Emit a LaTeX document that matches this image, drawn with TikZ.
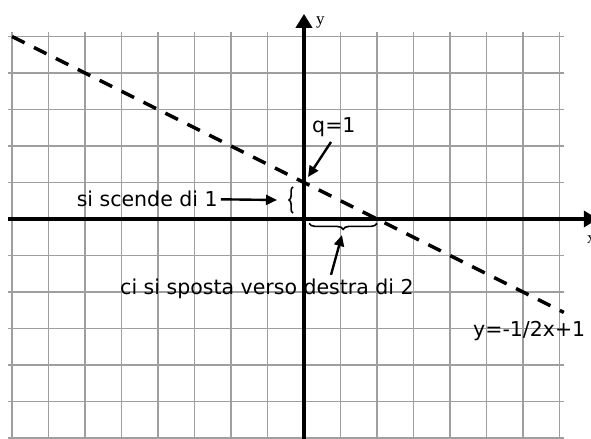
\documentclass[tikz,border=0pt]{standalone}
\usepackage{fontspec}
\setmainfont{DejaVu Sans}
\newfontfamily\axfont{Liberation Serif}
\usetikzlibrary{arrows.meta,decorations.pathreplacing}
\begin{document}
\begin{tikzpicture}[x=36.5pt,y=36.5pt,
  gridline/.style={draw=gray!75, line width=1.3pt},
  axisline/.style={line width=3.6pt, -{Triangle[length=14pt,width=16pt]}},
  graphline/.style={line width=3.4pt, dash pattern=on 14pt off 10.5pt},
  lbl/.style={font=\fontsize{20.5}{24}\selectfont, inner sep=0pt},
  axlbl/.style={font=\axfont\fontsize{17}{20}\selectfont, inner sep=0pt},
  pointer/.style={line width=2.4pt, -{Triangle[length=11pt,width=10pt]}},
  brc/.style={line width=1.6pt, decorate, decoration={brace, amplitude=#1}}]
\useasboundingbox (-8.329,-6.027) rectangle (7.863,6.0);
% grid
\foreach \y in {-6,...,5} \draw[gridline] (-8.11,\y) -- (7.12,\y);
\foreach \x in {-8,...,7} \draw[gridline] (\x,-6.1) -- (\x,5.12);
% axes
\coordinate (xs) at (-8.11,0);
\coordinate (xe) at (8.05,0);
\coordinate (ys) at (0,-6.1);
\coordinate (ye) at (0,5.62);
\draw[axisline] (xs) -- (xe);
\draw[axisline] (ys) -- (ye);
\node[axlbl, anchor=base west] (ylab) at (0.33,5.32) {y};
\node[axlbl, anchor=base west] (xlab) at (7.75,-0.66) {x};
% graph
\coordinate (ls) at (-8,5);
\coordinate (le) at (7.12,-2.56);
\draw[graphline] (ls) -- (le);
% braces
\coordinate (b1a) at (-0.30,0.16);
\coordinate (b1b) at (-0.30,0.88);
\draw[brc=4pt] (b1a) -- (b1b);
\coordinate (b1tip) at (-0.74,0.52);
\coordinate (b2a) at (2.0,-0.12);
\coordinate (b2b) at (0.14,-0.12);
\draw[brc=6pt] (b2a) -- (b2b);
\coordinate (b2tip) at (1.04,-0.44);
% labels
\node[lbl, anchor=base east] (scende) at (-2.36,0.33) {si scende di 1};
\draw[pointer] ([xshift=3pt]scende.east) -- (b1tip);
\node[lbl, anchor=base west] (q) at (0.22,2.36) {q=1};
\coordinate (qa) at (0.74,2.11);
\coordinate (qtip) at (0.11,1.15);
\draw[pointer] (qa) -- (qtip);
\node[lbl, anchor=base west] (sposta) at (-5.04,-2.08) {ci si sposta verso destra di 2};
\coordinate (sa) at (0.74,-1.53);
\draw[pointer] (sa) -- (b2tip);
\node[lbl, anchor=base west] (eq) at (4.63,-3.23) {y=-1/2x+1};
\end{tikzpicture}
\end{document}
